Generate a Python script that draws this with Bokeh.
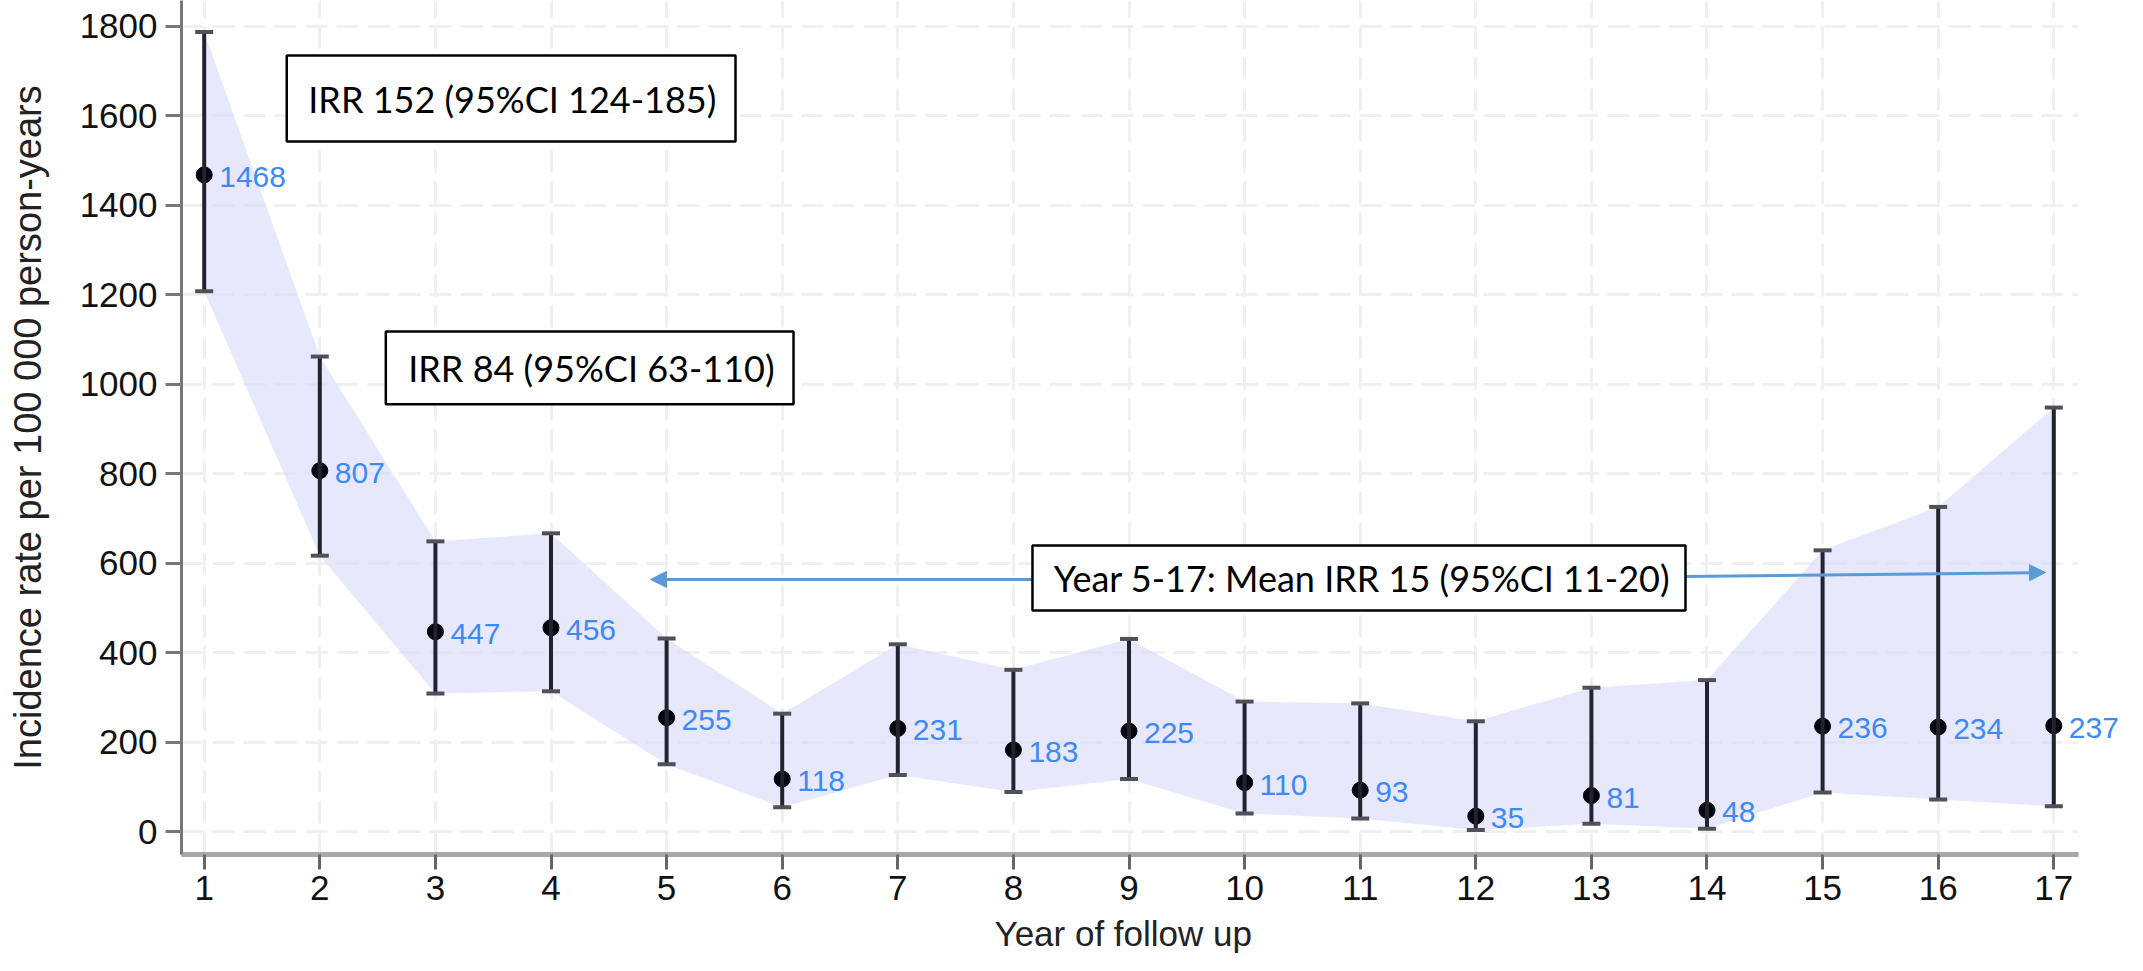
from bokeh.plotting import figure
from bokeh.models import (ColumnDataSource, Range1d, FixedTicker, Whisker, TeeHead,
                          Arrow, NormalHead, BoxAnnotation, Label, LabelSet, Title)
from bokeh.core.properties import value
from bokeh.embed import file_html
from bokeh.resources import INLINE

# ---------------- data ----------------
years = [1, 2, 3, 4, 5, 6, 7, 8, 9, 10, 11, 12, 13, 14, 15, 16, 17]
rate = [1468, 807, 447, 456, 255, 118, 231, 183, 225, 110, 93, 35, 81, 48, 236, 234, 237]
ci_lower = [1208, 617, 309, 314, 151, 55, 127, 89, 118, 41, 30, 4, 18, 7, 88, 72, 57]
ci_upper = [1787, 1062, 649, 667, 432, 264, 419, 362, 431, 291, 287, 247, 322, 339, 629, 726, 948]
rate_labels = [str(v) for v in rate]

y_ticks = [0, 200, 400, 600, 800, 1000, 1200, 1400, 1600, 1800]
y_tick_labels = ["0", "200", "400", "600", "800", "1000", "1200", "1400", "1600", "1800"]

x_title = "Year of follow up"
y_title = "Incidence rate per 100 000 person-years"

note_texts = ["IRR 152 (95%CI 124-185)",
              "IRR 84 (95%CI 63-110)",
              "Year 5-17: Mean IRR 15 (95%CI 11-20)"]

# ------------- layout / annotation placement (data units) -------------
X_LO, X_AXIS_HI, X_VIEW_HI = 0.8036, 17.214, 17.577
note_boxes = [  # left, right, top, bottom
    (1.714, 5.596, 1734.7, 1542.5),
    (2.571, 6.098, 1118.0, 955.5),
    (8.165, 13.814, 639.8, 494.5),
]
note_text_pos = [(1.90, 1637), (2.765, 1037), (8.35, 567)]
arrows = [  # x_start, y_start, x_end, y_end
    (8.165, 564, 4.861, 564),
    (13.814, 570.5, 16.928, 579.4),
]

src = ColumnDataSource(dict(year=years, rate=rate, lower=ci_lower, upper=ci_upper,
                            label=rate_labels))

p = figure(width=2120, height=975,
           x_range=Range1d(X_LO, X_VIEW_HI), y_range=Range1d(-50.7, 1857.6),
           output_backend="svg", toolbar_location=None,
           min_border_left=181, min_border_right=0, min_border_top=0,
           min_border_bottom=121)
p.outline_line_color = None
p.background_fill_color = "white"

# grid
for g in (p.xgrid, p.ygrid):
    g.grid_line_color = "#f0f0f0"
    g.grid_line_width = 3
    g.grid_line_dash = "22 9"

# hide the grid beyond the axis end (frame is wider so the last label fits)
p.add_layout(BoxAnnotation(left=X_AXIS_HI, fill_color="white", fill_alpha=1.0,
                           line_alpha=0, level="underlay"))

# x axis
xa = p.xaxis[0]
xa.bounds = (X_LO, X_AXIS_HI)
xa.ticker = FixedTicker(ticks=years)
xa.minor_tick_line_color = None
xa.axis_line_color = "#a8a8a8"
xa.axis_line_width = 5
xa.major_tick_out = 15
xa.major_tick_in = 0
xa.major_tick_line_color = "#666666"
xa.major_tick_line_width = 3
xa.major_label_text_font = "Liberation Sans"
xa.major_label_text_font_size = "35px"
xa.major_label_text_color = "#111111"
xa.major_label_standoff = 6

# x title, centred under the axis (not the wider frame)
p.add_layout(Title(text=x_title, align="left", offset=813, standoff=18,
                   text_font="Liberation Sans", text_font_size="35px",
                   text_font_style="normal", text_color="#222222"), "below")

# y axis
ya = p.yaxis[0]
ya.ticker = FixedTicker(ticks=y_ticks)
ya.major_label_overrides = {t: l for t, l in zip(y_ticks, y_tick_labels)}
ya.minor_tick_line_color = None
ya.axis_line_color = "#777777"
ya.axis_line_width = 3
ya.major_tick_out = 16
ya.major_tick_in = 0
ya.major_tick_line_color = "#777777"
ya.major_tick_line_width = 3
ya.major_label_text_font = "Liberation Sans"
ya.major_label_text_font_size = "35px"
ya.major_label_text_color = "#111111"
ya.major_label_standoff = 8
ya.axis_label = y_title
ya.axis_label_text_font = "Liberation Sans"
ya.axis_label_text_font_size = "38px"
ya.axis_label_text_font_style = "normal"
ya.axis_label_text_color = "#222222"
ya.axis_label_standoff = 28

# confidence band
p.varea(x="year", y1="lower", y2="upper", source=src,
        fill_color="#d9d9fa", fill_alpha=0.6)

# points
p.scatter(x="year", y="rate", source=src, size=16,
          fill_color="#05050f", line_color="#05050f")

# error bars
w = Whisker(source=src, base="year", upper="upper", lower="lower",
            line_color="#23232f", line_width=4, level="glyph",
            upper_head=TeeHead(size=18, line_color="#505058", line_width=4),
            lower_head=TeeHead(size=18, line_color="#505058", line_width=4))
p.add_layout(w)

# value labels
labels = LabelSet(x="year", y="rate", text="label", source=src, x_offset=15, y_offset=-2,
                  text_baseline="middle", text_align="left",
                  text_font=value("Liberation Sans"), text_font_size=value("30px"),
                  text_color="#3d8af7")
p.add_layout(labels)

# arrows
for xs, ys, xe, ye in arrows:
    p.add_layout(Arrow(end=NormalHead(size=16, fill_color="#5b9bd5", line_color="#5b9bd5"),
                       x_start=xs, y_start=ys, x_end=xe, y_end=ye,
                       line_color="#5b9bd5", line_width=3))

# note boxes
for (l, r, t, b) in note_boxes:
    p.add_layout(BoxAnnotation(left=l, right=r, top=t, bottom=b,
                               fill_color="white", fill_alpha=1.0,
                               line_color="black", line_width=2.5, line_alpha=1.0))
for txt, (tx, ty) in zip(note_texts, note_text_pos):
    p.add_layout(Label(x=tx, y=ty, text=txt, text_font="Lato", text_font_size="36px",
                       text_baseline="middle", text_align="left", text_color="black"))

open("out.html", "w").write(file_html(p, INLINE))
